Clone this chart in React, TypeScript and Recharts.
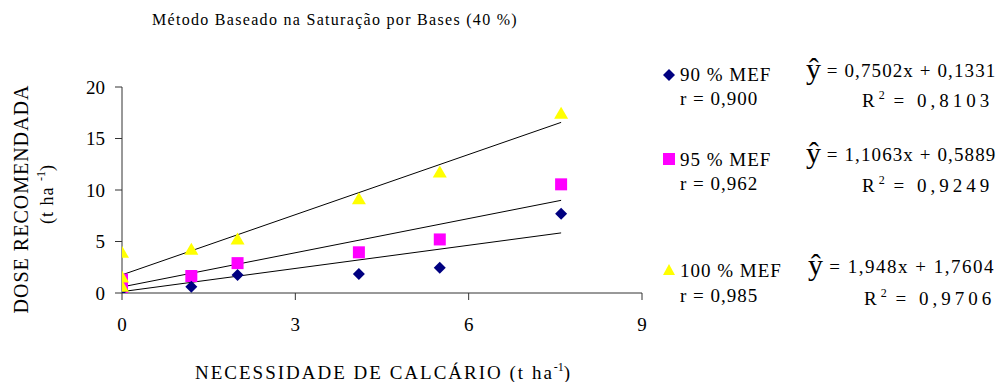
import React from "react";
import { ComposedChart, Scatter, Line, XAxis, YAxis, ZAxis } from "recharts";

const xTicks = [0, 3, 6, 9];
const yTicks = [0, 5, 10, 15, 20];

const mef90 = [
  { x: 0, y: 0.3 },
  { x: 1.2, y: 0.6 },
  { x: 2.0, y: 1.75 },
  { x: 4.1, y: 1.85 },
  { x: 5.5, y: 2.45 },
  { x: 7.6, y: 7.7 },
];
const mef95 = [
  { x: 0, y: 0.2 },
  { x: 0, y: 1.3 },
  { x: 1.2, y: 1.65 },
  { x: 2.0, y: 2.9 },
  { x: 4.1, y: 3.95 },
  { x: 5.5, y: 5.2 },
  { x: 7.6, y: 10.55 },
];
const mef100 = [
  { x: 0, y: 0.6 },
  { x: 0, y: 1.5 },
  { x: 0, y: 3.9 },
  { x: 1.2, y: 4.2 },
  { x: 2.0, y: 5.2 },
  { x: 4.1, y: 9.1 },
  { x: 5.5, y: 11.7 },
  { x: 7.6, y: 17.4 },
];

const fit90 = { a: 0.7502, b: 0.1331 };
const fit95 = { a: 1.1063, b: 0.5889 };
const fit100 = { a: 1.948, b: 1.7604 };
const fitRange = [0, 7.6];

const fitLine = (f: { a: number; b: number }) =>
  fitRange.map((x) => ({ x, y: f.a * x + f.b }));

const Diamond = (p: any) => {
  const { cx, cy } = p;
  const r = 6;
  return (
    <polygon
      points={`${cx},${cy - r} ${cx + r},${cy} ${cx},${cy + r} ${cx - r},${cy}`}
      fill="#000080"
    />
  );
};
const Square = (p: any) => {
  const { cx, cy } = p;
  const r = 6;
  return <rect x={cx - r} y={cy - r} width={2 * r} height={2 * r} fill="#FF00FF" />;
};
const Triangle = (p: any) => {
  const { cx, cy } = p;
  return (
    <polygon
      points={`${cx},${cy - 7} ${cx + 7},${cy + 5} ${cx - 7},${cy + 5}`}
      fill="#FFFF00"
    />
  );
};

const serif = "'Liberation Serif', 'Times New Roman', Times, serif";

const abs = (left: number, top: number, extra: React.CSSProperties = {}): React.CSSProperties => ({
  position: "absolute",
  left,
  top,
  whiteSpace: "nowrap",
  fontFamily: serif,
  fontSize: 19,
  letterSpacing: 1,
  color: "#000",
  lineHeight: "19px",
  ...extra,
});

const Sup = ({ t }: { t: string }) => (
  <span style={{ fontSize: 12, position: "relative", top: -8, letterSpacing: 0, lineHeight: "12px" }}>{t}</span>
);

const Hat = () => (
  <span style={{ fontSize: 30, position: "relative", top: 2, letterSpacing: 0, lineHeight: "19px" }}>ŷ</span>
);

export default function App() {
  return (
    <div style={{ position: "relative", width: 990, height: 374, fontFamily: serif }}>
      <ComposedChart
        width={990}
        height={374}
        margin={{ top: 79, right: 356, bottom: 59, left: 0 }}
      >
        <XAxis
          type="number"
          dataKey="x"
          domain={[0, 9]}
          ticks={xTicks}
          tickSize={7}
          tickMargin={18}
          axisLine={{ stroke: "#333" }}
          tickLine={{ stroke: "#333" }}
          tick={{ fill: "#000", fontSize: 19, fontFamily: serif }}
          height={30}
          allowDataOverflow
        />
        <YAxis
          type="number"
          dataKey="y"
          domain={[0, 20]}
          ticks={yTicks}
          tickSize={7}
          tickMargin={10}
          width={114}
          axisLine={{ stroke: "#333" }}
          tickLine={{ stroke: "#333" }}
          tick={{ fill: "#000", fontSize: 19, fontFamily: serif }}
          allowDataOverflow
        />
        <ZAxis range={[100, 100]} />
        <Line data={fitLine(fit100)} dataKey="y" stroke="#000" strokeWidth={1} dot={false} isAnimationActive={false} />
        <Line data={fitLine(fit95)} dataKey="y" stroke="#000" strokeWidth={1} dot={false} isAnimationActive={false} />
        <Line data={fitLine(fit90)} dataKey="y" stroke="#000" strokeWidth={1} dot={false} isAnimationActive={false} />
        <Scatter data={mef95} shape={Square} isAnimationActive={false} />
        <Scatter data={mef90} shape={Diamond} isAnimationActive={false} />
        <Scatter data={mef100} shape={Triangle} isAnimationActive={false} />
      </ComposedChart>

      <div style={abs(144, 4, { fontSize: 16, letterSpacing: 1.3, lineHeight: "16px" })}>
        Método Baseado na Saturação por Bases (40 %)
      </div>

      <div
        style={abs(13, 191, {
          transform: "translate(-50%, -50%) rotate(-90deg)",
          fontSize: 20,
          lineHeight: "20px",
          letterSpacing: 1,
        })}
      >
        DOSE RECOMENDADA
      </div>
      <div
        style={abs(39, 186, {
          transform: "translate(-50%, -50%) rotate(-90deg)",
          fontSize: 18,
          lineHeight: "18px",
        })}
      >
        (t ha <Sup t="-1" />)
      </div>

      <div style={abs(187, 355, { fontSize: 19, letterSpacing: 2 })}>
        NECESSIDADE DE CALCÁRIO (t ha<Sup t="-1" />)
      </div>

      {/* legend */}
      <svg style={{ position: "absolute", left: 654, top: 60 }} width={14} height={14}>
        <polygon points="7,1 13,7 7,13 1,7" fill="#000080" />
      </svg>
      <div style={abs(672, 57)}>90 % MEF</div>
      <div style={abs(672, 81)}>r = 0,900</div>
      <div style={abs(798, 49, { letterSpacing: 1.1 })}>
        <Hat /> = 0,7502x + 0,1331
      </div>
      <div style={abs(854, 83, { letterSpacing: 4 })}>
        R<Sup t="2" /> = 0,8103
      </div>

      <svg style={{ position: "absolute", left: 654, top: 144 }} width={14} height={14}>
        <rect x={1} y={1} width={12} height={12} fill="#FF00FF" />
      </svg>
      <div style={abs(672, 142)}>95 % MEF</div>
      <div style={abs(672, 166)}>r = 0,962</div>
      <div style={abs(798, 133, { letterSpacing: 1.1 })}>
        <Hat /> = 1,1063x + 0,5889
      </div>
      <div style={abs(854, 168, { letterSpacing: 4 })}>
        R<Sup t="2" /> = 0,9249
      </div>

      <svg style={{ position: "absolute", left: 654, top: 255 }} width={14} height={14}>
        <polygon points="7,1 13,12 1,12" fill="#FFFF00" />
      </svg>
      <div style={abs(672, 253)}>100 % MEF</div>
      <div style={abs(672, 278)}>r = 0,985</div>
      <div style={abs(800, 245, { letterSpacing: 1.5 })}>
        <Hat /> = 1,948x + 1,7604
      </div>
      <div style={abs(856, 281, { letterSpacing: 4 })}>
        R<Sup t="2" /> = 0,9706
      </div>
    </div>
  );
}
